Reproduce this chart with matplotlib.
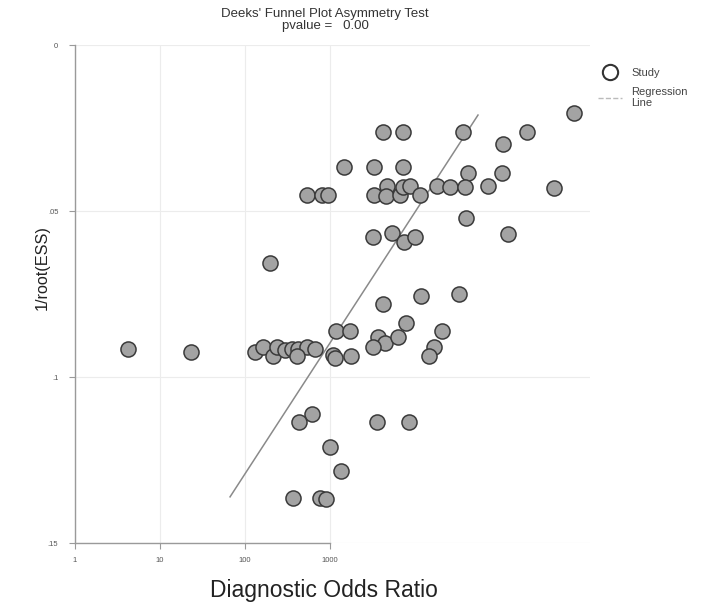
import matplotlib

matplotlib.use("Agg")
import matplotlib.pyplot as plt
from matplotlib.lines import Line2D

plt.rcParams["font.family"] = ["Liberation Sans", "DejaVu Sans"]

# study points: diagnostic odds ratio vs 1/root(ESS)
dor = [
    4200, 7230, 36700, 208000, 743000, 108000, 1460, 3290, 7230, 42000,
    106000, 536, 805, 947, 3290, 4690, 4560, 6660, 7230, 8740,
    11500, 18100, 25800, 38800, 72300, 432000, 39800, 3200, 5360, 7430,
    10000, 124000, 197, 4200, 11800, 32900, 7830, 20800, 1180, 1720,
    3670, 4440, 3200, 6310, 16700, 14600, 4.2, 23.2, 131, 163,
    213, 238, 296, 357, 421, 536, 667, 409, 1080, 1150,
    1770, 614, 432, 3570, 8500, 1000, 1350, 367, 762, 897,
]
inv_root_ess = [
    0.0262, 0.0262, 0.0262, 0.0262, 0.0205, 0.0298, 0.0367, 0.0367, 0.0367, 0.0386,
    0.0386, 0.0452, 0.0452, 0.0452, 0.0452, 0.0425, 0.0455, 0.0452, 0.0428, 0.0425,
    0.0452, 0.0425, 0.0428, 0.0428, 0.0425, 0.0431, 0.0521, 0.0578, 0.0566, 0.0593,
    0.0578, 0.0569, 0.0657, 0.0780, 0.0756, 0.0750, 0.0837, 0.0861, 0.0861, 0.0861,
    0.0880, 0.0898, 0.0910, 0.0880, 0.0910, 0.0937, 0.0916, 0.0925, 0.0925, 0.0910,
    0.0937, 0.0910, 0.0919, 0.0916, 0.0916, 0.0910, 0.0916, 0.0937, 0.0934, 0.0943,
    0.0937, 0.1111, 0.1136, 0.1136, 0.1136, 0.1211, 0.1283, 0.1364, 0.1364, 0.1367,
]

# regression line end points
reg_dor = [66.7, 55100]
reg_y = [0.1361, 0.0211]

x_ticks = [1, 10, 100, 1000]
x_tick_labels = ["1", "10", "100", "1000"]
y_ticks = [0, 0.05, 0.1, 0.15]
y_tick_labels = ["0", ".05", ".1", ".15"]

title = "Deeks' Funnel Plot Asymmetry Test\npvalue =   0.00"


def make_plot():
    fig = plt.figure(figsize=(7.16, 6.04), dpi=100)
    ax = fig.add_axes([75 / 716, 61 / 604, 515 / 716, 498 / 604])

    ax.set_xscale("log")
    ax.set_xlim(1, 10 ** (515 / 85))
    ax.set_ylim(0.15, 0)

    ax.grid(True, color="#ececec", linewidth=0.8)
    ax.set_axisbelow(True)

    ax.plot(reg_dor, reg_y, color="#8a8a8a", linewidth=1.1, zorder=2)
    ax.scatter(
        dor, inv_root_ess, s=118, facecolor="#a3a3a3", edgecolor="#3a3a3a",
        linewidth=1.1, zorder=3,
    )

    for side in ["top", "right"]:
        ax.spines[side].set_visible(False)
    ax.spines["bottom"].set_bounds(1, 1000)
    for side in ["bottom", "left"]:
        ax.spines[side].set_color("#9a9a9a")
        ax.spines[side].set_linewidth(1.0)

    ax.set_xticks(x_ticks)
    ax.set_xticklabels(x_tick_labels)
    ax.minorticks_off()
    ax.set_yticks(y_ticks)
    ax.set_yticklabels(y_tick_labels)
    ax.tick_params(colors="#9a9a9a", labelcolor="#555555", labelsize=5.5, length=4, width=0.8)
    ax.tick_params(axis="y", pad=8)
    ax.tick_params(axis="x", pad=6)

    fig.text(324 / 716, 1 - 590 / 604, "Diagnostic Odds Ratio", ha="center", va="center",
             fontsize=16.5, color="#222222")
    fig.text(42 / 716, 1 - 268 / 604, "1/root(ESS)", ha="center", va="center",
             rotation=90, fontsize=11.7, color="#222222")

    fig.text(325 / 716, 1 - 20 / 604, title, ha="center", va="center",
             fontsize=9.5, color="#333333", linespacing=0.95)

    handles = [
        Line2D([], [], marker="o", linestyle="none", markersize=11,
               markerfacecolor="white", markeredgecolor="#333333", markeredgewidth=1.5),
        Line2D([], [], color="#bbbbbb", linestyle="--", linewidth=1.0),
    ]
    fig.legend(
        handles, ["Study", "Regression\nLine"], loc="upper left",
        bbox_to_anchor=(588 / 716, 1 - 58 / 604), frameon=False,
        fontsize=8, labelcolor="#444444", handlelength=2.2, handletextpad=0.8,
        labelspacing=0.8,
    )
    return fig


fig = make_plot()
fig.savefig("out.png", dpi=100)
